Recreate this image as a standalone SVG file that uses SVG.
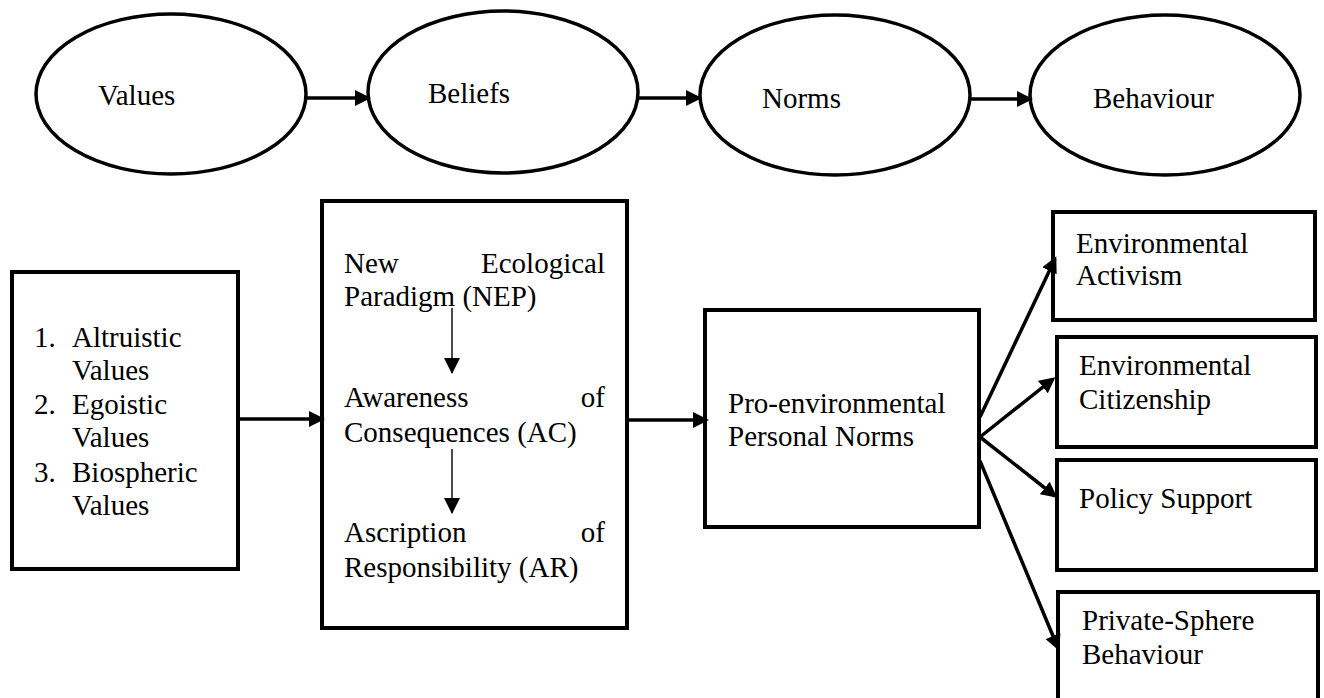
<svg xmlns="http://www.w3.org/2000/svg" width="1324" height="698" viewBox="0 0 1324 698">
  <style>
    .shape { fill: #ffffff; stroke: #000000; stroke-width: 3.5; }
    .box { fill: #ffffff; stroke: #000000; stroke-width: 4; }
    .lbl { font-family: "Liberation Serif", "Times New Roman", serif; font-size: 29px; fill: #000000; }
    .end { text-anchor: end; }
    .thick { stroke: #000000; stroke-width: 3.5; fill: none; }
    .thin { stroke: #000000; stroke-width: 1.4; fill: none; }
  </style>
  <defs>
    <marker id="head" viewBox="0 0 16 16" markerWidth="16" markerHeight="16" refX="13" refY="8" orient="auto" markerUnits="userSpaceOnUse">
      <path d="M0,0 L16,8 L0,16 z" fill="#000000"/>
    </marker>
    <marker id="headThin" viewBox="0 0 16 16" markerWidth="16" markerHeight="16" refX="15" refY="8" orient="auto" markerUnits="userSpaceOnUse">
      <path d="M0,0 L16,8 L0,16 z" fill="#000000"/>
    </marker>
  </defs>
  <rect width="1324" height="698" fill="#ffffff"/>

  <!-- top row: value-belief-norm chain -->
  <g id="values">
    <ellipse class="shape" cx="171" cy="94" rx="135" ry="80"/>
    <text class="lbl" x="98" y="105">Values</text>
  </g>
  <g id="beliefs">
    <ellipse class="shape" cx="503" cy="92" rx="135" ry="81"/>
    <text class="lbl" x="428" y="103">Beliefs</text>
  </g>
  <g id="norms">
    <ellipse class="shape" cx="835" cy="95" rx="135" ry="80"/>
    <text class="lbl" x="762" y="108">Norms</text>
  </g>
  <g id="behaviour">
    <ellipse class="shape" cx="1165" cy="95" rx="135" ry="80"/>
    <text class="lbl" x="1093" y="108">Behaviour</text>
  </g>

  <!-- bottom row -->
  <g id="value-types">
    <rect class="box" x="12" y="272" width="226" height="297"/>
    <text class="lbl" x="34" y="347">1.</text><text class="lbl" x="72" y="347">Altruistic</text>
    <text class="lbl" x="72" y="380">Values</text>
    <text class="lbl" x="34" y="414">2.</text><text class="lbl" x="72" y="414">Egoistic</text>
    <text class="lbl" x="72" y="447">Values</text>
    <text class="lbl" x="34" y="482">3.</text><text class="lbl" x="72" y="482">Biospheric</text>
    <text class="lbl" x="72" y="515">Values</text>
  </g>

  <g id="belief-chain">
    <rect class="box" x="322" y="201" width="305" height="427"/>
    <text class="lbl" x="344" y="273">New</text>
    <text class="lbl end" x="605" y="273">Ecological</text>
    <text class="lbl" x="344" y="306">Paradigm (NEP)</text>
    <text class="lbl" x="344" y="407">Awareness</text>
    <text class="lbl end" x="605" y="407">of</text>
    <text class="lbl" x="344" y="442">Consequences (AC)</text>
    <text class="lbl" x="344" y="542">Ascription</text>
    <text class="lbl end" x="605" y="542">of</text>
    <text class="lbl" x="344" y="577">Responsibility (AR)</text>
  </g>

  <g id="personal-norms">
    <rect class="box" x="705" y="310" width="274" height="217"/>
    <text class="lbl" x="728" y="413">Pro-environmental</text>
    <text class="lbl" x="728" y="446">Personal Norms</text>
  </g>

  <g id="activism">
    <rect class="box" x="1053" y="212" width="262" height="108"/>
    <text class="lbl" x="1076" y="253">Environmental</text>
    <text class="lbl" x="1076" y="285">Activism</text>
  </g>
  <g id="citizenship">
    <rect class="box" x="1057" y="337" width="259" height="110"/>
    <text class="lbl" x="1079" y="375">Environmental</text>
    <text class="lbl" x="1079" y="409">Citizenship</text>
  </g>
  <g id="policy-support">
    <rect class="box" x="1057" y="460" width="259" height="110"/>
    <text class="lbl" x="1079" y="508">Policy Support</text>
  </g>
  <g id="private-sphere">
    <rect class="box" x="1058" y="592" width="260" height="120"/>
    <text class="lbl" x="1082" y="630">Private-Sphere</text>
    <text class="lbl" x="1082" y="664">Behaviour</text>
  </g>

  <!-- connectors -->
  <g id="connectors">
    <line class="thick" x1="307" y1="98" x2="368" y2="98" marker-end="url(#head)"/>
    <line class="thick" x1="638" y1="98" x2="699" y2="98" marker-end="url(#head)"/>
    <line class="thick" x1="970" y1="99" x2="1030" y2="99" marker-end="url(#head)"/>

    <line class="thick" x1="238" y1="419" x2="322" y2="419" marker-end="url(#head)"/>
    <line class="thick" x1="627" y1="420" x2="706" y2="420" marker-end="url(#head)"/>

    <line class="thin" x1="452" y1="308" x2="452" y2="373" marker-end="url(#headThin)"/>
    <line class="thin" x1="452" y1="449" x2="452" y2="513" marker-end="url(#headThin)"/>

    <line class="thick" x1="980" y1="417" x2="1055" y2="259" marker-end="url(#head)"/>
    <line class="thick" x1="980" y1="437" x2="1053" y2="379" marker-end="url(#head)"/>
    <line class="thick" x1="980" y1="437" x2="1055" y2="496" marker-end="url(#head)"/>
    <line class="thick" x1="980" y1="461" x2="1058" y2="648" marker-end="url(#head)"/>
  </g>
</svg>
